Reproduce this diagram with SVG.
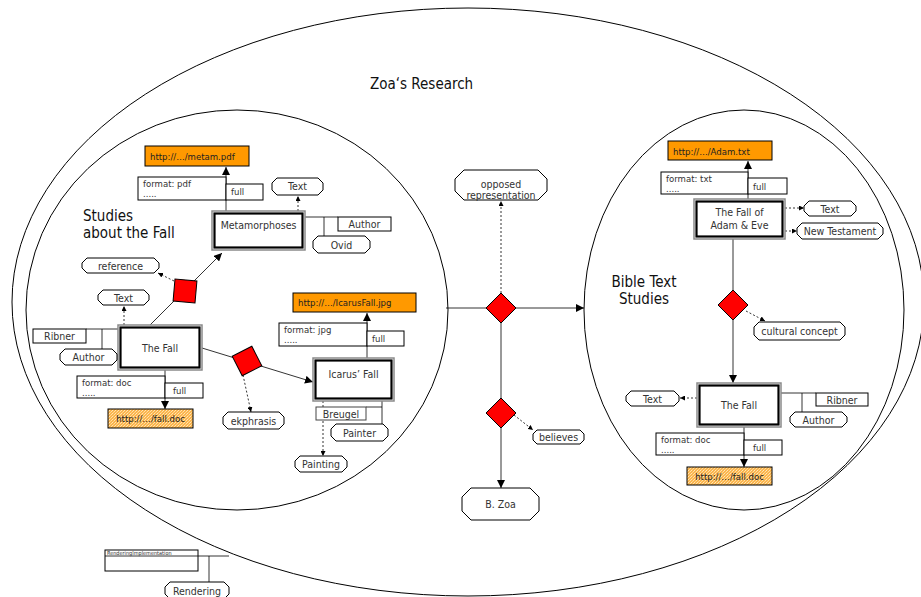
<svg xmlns="http://www.w3.org/2000/svg" width="921" height="597" viewBox="0 0 921 597">
  <style>
    text { font-family: "DejaVu Sans Condensed", "DejaVu Sans", sans-serif; fill: #333; }
    .big { font-size: 15px; fill: #111; }
    .lbl { font-size: 10.5px; }
    .sm { font-size: 9.5px; }
    .url { font-size: 9.5px; fill: #222; }
    .mid { text-anchor: middle; }
    .area { fill: none; stroke: #000; stroke-width: 1; }
    .box { fill: #fff; stroke: #000; stroke-width: 1; }
    .oct { fill: #fff; stroke: #000; stroke-width: 1; }
    .outer { fill: #fff; stroke: #8a8a8a; stroke-width: 1.5; }
    .inner { fill: #fff; stroke: #000; stroke-width: 2.2; }
    .res { fill: #ff9900; stroke: #000; stroke-width: 1; }
    .res2 { fill: url(#grain); stroke: #000; stroke-width: 1; }
    .rel { fill: #ff0000; stroke: #000; stroke-width: 1; }
    .ln { fill: none; stroke: #000; stroke-width: 0.8; }
    .arr { fill: none; stroke: #000; stroke-width: 0.8; marker-end: url(#ah); }
    .dot { fill: none; stroke: #000; stroke-width: 0.8; stroke-dasharray: 2 2; marker-end: url(#dh); }
  </style>
  <defs>
    <marker id="ah" viewBox="0 0 10 10" refX="10" refY="5" markerWidth="8" markerHeight="8" markerUnits="userSpaceOnUse" orient="auto">
      <path d="M0,0 L10,5 L0,10 Z" fill="#000"/>
    </marker>
    <marker id="dh" viewBox="0 0 10 10" refX="10" refY="5" markerWidth="5" markerHeight="5" markerUnits="userSpaceOnUse" orient="auto">
      <path d="M0,0 L10,5 L0,10 Z" fill="#000"/>
    </marker>
    <pattern id="grain" width="3" height="3" patternUnits="userSpaceOnUse">
      <rect width="3" height="3" fill="#fbb54e"/>
      <rect x="0" y="0" width="1" height="1" fill="#ffe0a6"/>
      <rect x="2" y="1" width="1" height="1" fill="#ffd38a"/>
      <rect x="1" y="2" width="1" height="1" fill="#ffe6b8"/>
    </pattern>
  </defs>

  <rect width="921" height="597" fill="#fff"/>

  <!-- grouping areas -->
  <g id="areas">
    <ellipse class="area" cx="468" cy="302" rx="456" ry="294"/>
    <ellipse class="area" cx="237" cy="310" rx="211" ry="200"/>
    <ellipse class="area" cx="744" cy="310" rx="160" ry="200"/>
    <text class="big" x="370" y="89">Zoa‘s Research</text>
    <text class="big" x="83" y="221">Studies</text>
    <text class="big" x="83" y="238">about the Fall</text>
    <text class="big mid" x="644" y="287">Bible Text</text>
    <text class="big mid" x="644" y="304">Studies</text>
  </g>

  <!-- connectors -->
  <g id="connectors">
    <!-- Metamorphoses -->
    <path class="arr" d="M226,211 V167"/>
    <path class="dot" d="M298,211 V196"/>
    <path class="ln" d="M305,217 H338 M324,217 V236"/>
    <!-- The Fall (left) -->
    <path class="arr" d="M150,325 L222,253"/>
    <path class="dot" d="M174,281 L158,273"/>
    <path class="dot" d="M124,325 V306"/>
    <path class="ln" d="M118,329 H86 M102,329 V349"/>
    <path class="arr" d="M165,370 V409"/>
    <path class="arr" d="M202,348 L313,382"/>
    <path class="dot" d="M243,375 L251,412"/>
    <!-- Icarus' Fall -->
    <path class="arr" d="M367,358 V313"/>
    <path class="ln" d="M382,401 V424 M366,407 H382"/>
    <path class="dot" d="M323,401 V456"/>
    <!-- between the studies -->
    <path class="arr" d="M446,308 H584"/>
    <path class="dot" d="M501,293 V201"/>
    <path class="ln" d="M501,323 V398"/>
    <path class="arr" d="M501,428 V488"/>
    <path class="dot" d="M514,415 L533,430"/>
    <!-- Bible text studies -->
    <path class="arr" d="M748,199 V161"/>
    <path class="dot" d="M785,208 H804"/>
    <path class="dot" d="M785,231 H797"/>
    <path class="ln" d="M733,239 V290"/>
    <path class="arr" d="M733,320 V383"/>
    <path class="dot" d="M746,311 L765,321"/>
    <path class="dot" d="M697,398 H680"/>
    <path class="ln" d="M781,393 H816 M802,393 V412"/>
    <path class="arr" d="M744,427 V467"/>
    <!-- rendering -->
    <path class="ln" d="M198,556 H229 M209,556 V582"/>
  </g>

  <!-- relation markers -->
  <g id="rel-reference"><rect class="rel" x="174" y="280" width="22" height="22" transform="rotate(5 185 291)"/></g>
  <g id="rel-ekphrasis"><rect class="rel" x="236" y="350" width="22" height="22" transform="rotate(-27 247 361)"/></g>
  <g id="rel-opposed"><path class="rel" d="M501,293 L516,308 L501,323 L486,308 Z"/></g>
  <g id="rel-believes"><path class="rel" d="M501,398 L516,413 L501,428 L486,413 Z"/></g>
  <g id="rel-cultural"><path class="rel" d="M733,290 L748,305 L733,320 L718,305 Z"/></g>

  <!-- Metamorphoses -->
  <g id="metam-url">
    <rect class="res" x="145" y="146" width="104" height="20"/>
    <text class="url" x="150" y="160">http://…/metam.pdf</text>
  </g>
  <g id="metam-format">
    <rect class="box" x="138" y="177" width="88" height="23"/>
    <text class="sm" x="143" y="187">format: pdf</text>
    <text class="sm" x="143" y="197">.....</text>
    <rect class="box" x="226" y="184" width="37" height="16"/>
    <text class="sm" x="231" y="195">full</text>
  </g>
  <g id="metam">
    <rect class="outer" x="212" y="211" width="93" height="39"/>
    <rect class="inner" x="214.5" y="213.5" width="88" height="34"/>
    <text class="lbl mid" x="258.5" y="229">Metamorphoses</text>
  </g>
  <g id="metam-type">
    <path class="oct" d="M277,178 H318 L323,183 V190 L318,195 H277 L272,190 V183 Z"/>
    <text class="lbl mid" x="297.5" y="190">Text</text>
  </g>
  <g id="metam-author">
    <rect class="box" x="338" y="217" width="53" height="14"/>
    <text class="lbl mid" x="364.5" y="228">Author</text>
  </g>
  <g id="ovid">
    <path class="oct" d="M318,236 H365 L370,241 V248 L365,253 H318 L313,248 V241 Z"/>
    <text class="lbl mid" x="341.5" y="248.5">Ovid</text>
  </g>

  <!-- The Fall (studies) -->
  <g id="reference">
    <path class="oct" d="M87,258 H154 L159,263 V268 L154,273 H87 L82,268 V263 Z"/>
    <text class="lbl mid" x="120.5" y="269.5">reference</text>
  </g>
  <g id="fall-type">
    <path class="oct" d="M103,290 H144 L149,295 V300 L144,305 H103 L98,300 V295 Z"/>
    <text class="lbl mid" x="123.5" y="301.5">Text</text>
  </g>
  <g id="fall">
    <rect class="outer" x="118" y="325" width="84" height="45"/>
    <rect class="inner" x="120.5" y="327.5" width="79" height="40"/>
    <text class="lbl mid" x="160" y="352">The Fall</text>
  </g>
  <g id="fall-ribner">
    <rect class="box" x="33" y="329" width="53" height="14"/>
    <text class="lbl mid" x="59.5" y="340">Ribner</text>
  </g>
  <g id="fall-author">
    <path class="oct" d="M65,349 H112 L117,354 V360 L112,365 H65 L60,360 V354 Z"/>
    <text class="lbl mid" x="88.5" y="361">Author</text>
  </g>
  <g id="fall-format">
    <rect class="box" x="77" y="376" width="88" height="22"/>
    <text class="sm" x="82" y="386">format: doc</text>
    <text class="sm" x="82" y="395.5">.....</text>
    <rect class="box" x="165" y="383" width="38" height="15"/>
    <text class="sm" x="173" y="394">full</text>
  </g>
  <g id="fall-url">
    <rect class="res2" x="108" y="409" width="85" height="19"/>
    <text class="url mid" x="150.5" y="422">http://…/fall.doc</text>
  </g>
  <g id="ekphrasis">
    <path class="oct" d="M228,412 H279 L284,417 V424 L279,429 H228 L223,424 V417 Z"/>
    <text class="lbl mid" x="253.5" y="424.5">ekphrasis</text>
  </g>

  <!-- Icarus' Fall -->
  <g id="icarus-url">
    <rect class="res" x="293" y="293" width="123" height="19"/>
    <text class="url" x="298" y="306">http://…/IcarusFall.jpg</text>
  </g>
  <g id="icarus-format">
    <rect class="box" x="279" y="323" width="88" height="23"/>
    <text class="sm" x="284" y="333">format: jpg</text>
    <text class="sm" x="284" y="343">.....</text>
    <rect class="box" x="367" y="331" width="37" height="15"/>
    <text class="sm" x="372" y="342">full</text>
  </g>
  <g id="icarus">
    <rect class="outer" x="313" y="358" width="81" height="43"/>
    <rect class="inner" x="315.5" y="360.5" width="76" height="38"/>
    <text class="lbl mid" x="353.5" y="378">Icarus’ Fall</text>
  </g>
  <g id="breugel">
    <rect class="box" x="316" y="407" width="50" height="13" style="stroke:#444"/>
    <text class="lbl mid" x="341" y="418">Breugel</text>
  </g>
  <g id="painter">
    <path class="oct" d="M336,424 H383 L388,429 V436 L383,441 H336 L331,436 V429 Z"/>
    <text class="lbl mid" x="359.5" y="437">Painter</text>
  </g>
  <g id="painting">
    <path class="oct" d="M300,456 H342 L347,461 V467 L342,472 H300 L295,467 V461 Z"/>
    <text class="lbl mid" x="321" y="468">Painting</text>
  </g>

  <!-- middle -->
  <g id="opposed">
    <path class="oct" d="M464,170 H538 L547,179 V191 L538,200 H464 L455,191 V179 Z"/>
    <text class="lbl mid" x="501" y="187.5">opposed</text>
    <text class="lbl mid" x="501" y="198.5">representation</text>
  </g>
  <g id="believes">
    <path class="oct" d="M537,430 H580 L584,434 V440 L580,444 H537 L533,440 V434 Z"/>
    <text class="lbl mid" x="558.5" y="441">believes</text>
  </g>
  <g id="zoa">
    <path class="oct" d="M471,488 H530 L539,497 V511 L530,520 H471 L462,511 V497 Z"/>
    <text class="lbl mid" x="500.5" y="508">B. Zoa</text>
  </g>

  <!-- Bible text studies -->
  <g id="adam-url">
    <rect class="res" x="668" y="141" width="104" height="19"/>
    <text class="url" x="673" y="155">http://…/Adam.txt</text>
  </g>
  <g id="adam-format">
    <rect class="box" x="661" y="172" width="87" height="22"/>
    <text class="sm" x="666" y="182">format: txt</text>
    <text class="sm" x="666" y="191.5">.....</text>
    <rect class="box" x="748" y="178" width="39" height="16"/>
    <text class="sm" x="753" y="190">full</text>
  </g>
  <g id="adam">
    <rect class="outer" x="694" y="199" width="91" height="40"/>
    <rect class="inner" x="696.5" y="201.5" width="86" height="35"/>
    <text class="lbl mid" x="739.5" y="216">The Fall of</text>
    <text class="lbl mid" x="739.5" y="229">Adam &amp; Eve</text>
  </g>
  <g id="adam-type">
    <path class="oct" d="M809,201 H851 L856,206 V211 L851,216 H809 L804,211 V206 Z"/>
    <text class="lbl mid" x="830" y="212.5">Text</text>
  </g>
  <g id="new-testament">
    <path class="oct" d="M802,223 H878 L883,228 V234 L878,239 H802 L797,234 V228 Z"/>
    <text class="lbl mid" x="840" y="235">New Testament</text>
  </g>
  <g id="cultural">
    <path class="oct" d="M759,322 H840 L845,327 V335 L840,340 H759 L754,335 V327 Z"/>
    <text class="lbl mid" x="799.5" y="335">cultural concept</text>
  </g>
  <g id="bible-fall">
    <rect class="outer" x="697" y="383" width="84" height="44"/>
    <rect class="inner" x="699.5" y="385.5" width="79" height="39"/>
    <text class="lbl mid" x="739" y="409">The Fall</text>
  </g>
  <g id="bible-fall-type">
    <path class="oct" d="M631,391 H674 L679,396 V401 L674,406 H631 L626,401 V396 Z"/>
    <text class="lbl mid" x="652.5" y="402.5">Text</text>
  </g>
  <g id="bible-ribner">
    <rect class="box" x="816" y="393" width="52" height="13"/>
    <text class="lbl mid" x="842" y="404">Ribner</text>
  </g>
  <g id="bible-author">
    <path class="oct" d="M795,412 H842 L847,417 V422 L842,427 H795 L790,422 V417 Z"/>
    <text class="lbl mid" x="818.5" y="423.5">Author</text>
  </g>
  <g id="bible-format">
    <rect class="box" x="656" y="433" width="88" height="22"/>
    <text class="sm" x="661" y="443">format: doc</text>
    <text class="sm" x="661" y="452.5">.....</text>
    <rect class="box" x="744" y="440" width="38" height="15"/>
    <text class="sm" x="753" y="451">full</text>
  </g>
  <g id="bible-url">
    <rect class="res2" x="687" y="467" width="85" height="18"/>
    <text class="url mid" x="729.5" y="480">http://…/fall.doc</text>
  </g>

  <!-- rendering -->
  <g id="rendering-impl">
    <rect class="box" x="105" y="550" width="93" height="21"/>
    <path class="ln" d="M105,556 H198"/>
    <text x="107" y="555" style="font-size:5.5px">RenderingImplementation</text>
  </g>
  <g id="rendering">
    <path class="oct" d="M170,582 H224 L229,587 V594 L224,599 H170 L165,594 V587 Z"/>
    <text class="lbl mid" x="197" y="594.5">Rendering</text>
  </g>
</svg>
